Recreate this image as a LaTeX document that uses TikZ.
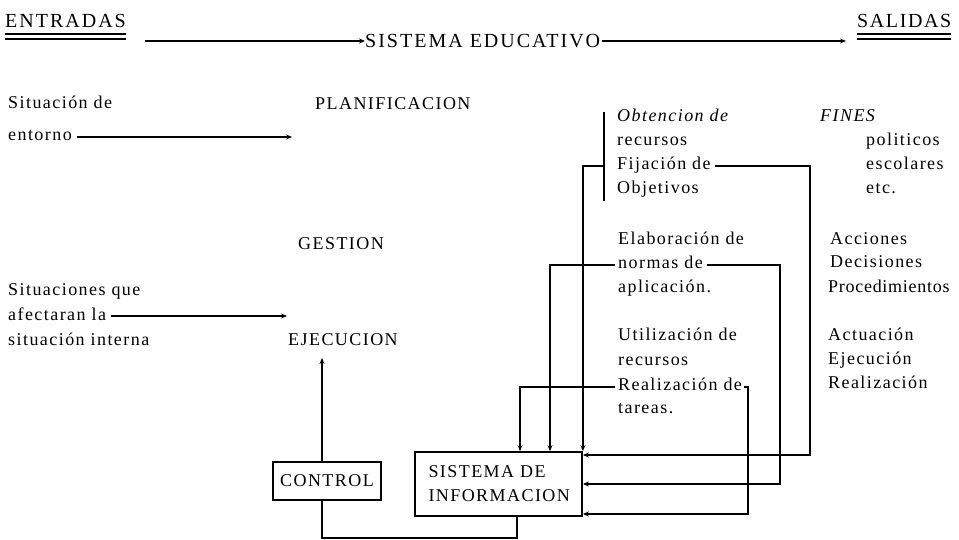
\documentclass[tikz,border=0pt]{standalone}
\usepackage{fontspec}
\setmainfont{Liberation Serif}[LetterSpace=8]
\usetikzlibrary{arrows.meta}
\begin{document}
\begin{tikzpicture}[x=1pt,y=-1pt,
  ln/.style={line width=1.8pt},
  ul/.style={line width=1.1pt},
  arr/.style={ln,-{Stealth[length=6pt,width=5pt]}},
  txt/.style={anchor=base west,inner sep=0pt,font=\fontsize{18}{21}\selectfont},
  ttl/.style={anchor=base west,inner sep=0pt,font=\fontsize{20}{24}\selectfont\addfontfeature{LetterSpace=10}},
  boxn/.style={draw,line width=1.8pt,inner sep=0pt,font=\fontsize{18}{24}\selectfont,align=left},
  dot/.style={circle,fill,inner sep=0pt,minimum size=3.5pt}]
\useasboundingbox[fill=white] (0,0) rectangle (959,540);

% top row
\node[ttl] (ent) at (5,28) {ENTRADAS};
\draw[ul] ([yshift=-6pt]ent.base west) -- ([yshift=-6pt]ent.base east);
\draw[ul] ([yshift=-11pt]ent.base west) -- ([yshift=-11pt]ent.base east);
\node[ttl] (sed) at (365,48) {SISTEMA EDUCATIVO};
\node[ttl] (sal) at (857,28) {\addfontfeature{LetterSpace=8}SALIDAS};
\draw[ul] ([yshift=-6pt]sal.base west) -- ([yshift=-6pt]sal.base east);
\draw[ul] ([yshift=-11pt]sal.base west) -- ([yshift=-11pt]sal.base east);
\coordinate (a0) at (145,41);
\coordinate (a1) at (846,41);
\draw[arr] (a0) -- (a0 -| sed.west);
\draw[arr] ([xshift=2pt]sed.east |- a0) -- (a1);

% left column
\node[txt] (sit1) at (8,109) {Situación de};
\node[txt] (sit2) at (8,141) {entorno};
\node[txt] (sq1) at (8,295) {Situaciones que};
\node[txt] (sq2) at (8,320) {afectaran la};
\node[txt] (sq3) at (8,345) {situación interna};
\coordinate (p1) at (292,0);
\coordinate (p2) at (287,0);
\draw[arr] ([shift={(5pt,4pt)}]sit2.base east) -- ([yshift=4pt]sit2.base east -| p1);
\draw[arr] ([shift={(5pt,4pt)}]sq2.base east) -- ([yshift=4pt]sq2.base east -| p2);

% centre column
\node[txt] (plan) at (315,110) {PLANIFICACION};
\node[txt] (gest) at (298,250) {GESTION};
\node[txt] (ejec) at (288,345) {EJECUCION};

% middle column
\node[txt] (obt) at (617,122) {\itshape Obtencion de};
\node[txt] (rec1) at (617,146) {recursos};
\node[txt] (fij) at (617,170) {Fijación de};
\node[txt] (objv) at (617,194) {Objetivos};
\node[txt] (ela) at (618,245) {Elaboración de};
\node[txt] (norm) at (618,269) {normas de};
\node[txt] (apl) at (618,293) {aplicación.};
\node[txt] (uti) at (618,341) {Utilización de};
\node[txt] (rec2) at (618,365) {recursos};
\node[txt] (real) at (618,390) {Realización de};
\node[txt] (tar) at (618,413) {tareas.};

% right column
\node[txt] (fines) at (820,122) {\itshape FINES};
\node[txt] (pol) at (866,146) {politicos};
\node[txt] (esc) at (866,170) {escolares};
\node[txt] (etc) at (866,194) {etc.};
\node[txt] (acc) at (830,245) {Acciones};
\node[txt] (dec) at (830,268) {Decisiones};
\node[txt] (proc) at (828,292) {\addfontfeature{LetterSpace=4}Procedimientos};
\node[txt] (act) at (828,340) {Actuación};
\node[txt] (ejc) at (828,364) {Ejecución};
\node[txt] (rea) at (828,388) {Realización};

% boxes
\node[boxn,minimum width=108pt,minimum height=38pt] (ctrl) at (327,481) {CONTROL};
\node[boxn,minimum width=167pt,minimum height=64pt,text width=140pt] (si) at (498.5,484) {SISTEMA DE\\INFORMACION};

% control loop
\coordinate (ej0) at (322,358);
\draw[arr] (ej0 |- ctrl.north) -- (ej0);
\coordinate (bt) at (517,538);
\draw[ln] (bt |- si.south) -- (bt) -| (ej0 |- ctrl.south);

% bracket and feeds
\coordinate (bk1) at (604,112);
\coordinate (bk2) at (604,201);
\draw[ln] (bk1) -- (bk2);
\coordinate (fjl) at (604,166);
\draw[arr] (fjl) -| (si.north east);
\coordinate (xb) at (550,0);
\coordinate (xa) at (520,0);
\draw[arr] ([shift={(-3pt,4pt)}]norm.base west) -| (xb |- si.north);
\draw[arr] ([shift={(-3pt,3pt)}]real.base west) -| (xa |- si.north);

% returns
\coordinate (r1) at (810,455);
\coordinate (r2) at (780,484);
\coordinate (r3) at (748,514);
\draw[arr] ([shift={(4pt,4pt)}]fij.base east) -| (r1) -- (si.east |- r1);
\draw[arr] ([shift={(4pt,4pt)}]norm.base east) -| (r2) -- (si.east |- r2);
\draw[arr] ([shift={(2pt,3pt)}]real.base east) -| (r3) -- (si.east |- r3);

% junction dots
\node[dot] (d1) at (583,265) {};
\node[dot] (d2) at (550,387) {};
\node[dot] (d3) at (583,387) {};
\node[dot] (d4) at (780,455) {};
\node[dot] (d5) at (748,455) {};
\node[dot] (d6) at (748,484) {};
\end{tikzpicture}
\end{document}
